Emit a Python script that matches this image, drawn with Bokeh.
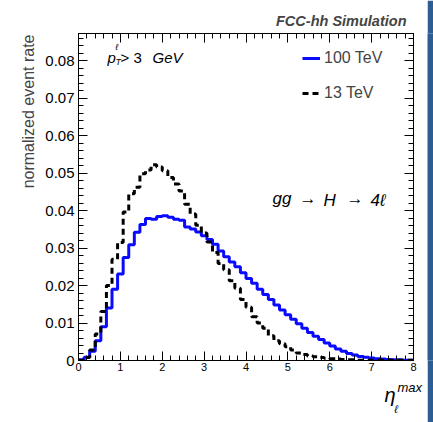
import numpy as np
from bokeh.plotting import figure
from bokeh.layouts import row
from bokeh.models import (LinearAxis, SingleIntervalTicker, Label, Legend, LegendItem, Title,
                          CustomJSTickFormatter, Range1d)
from bokeh.embed import file_html
from bokeh.resources import INLINE

# ---- data: 60 bins from 0 to 8 in eta_max ----
eta_lo, eta_hi, n_bins = 0.0, 8.0, 60
rate_100tev = [0.0002, 0.0009, 0.0025, 0.0053, 0.0090, 0.0140, 0.0190, 0.0231, 0.0275, 0.0309,
               0.0342, 0.0363, 0.0379, 0.0377, 0.0384, 0.0386, 0.0382, 0.0377, 0.0374, 0.0356,
               0.0351, 0.0343, 0.0333, 0.0323, 0.0310, 0.0292, 0.0277, 0.0263, 0.0250, 0.0234,
               0.0219, 0.0206, 0.0190, 0.0176, 0.0163, 0.0148, 0.0135, 0.0122, 0.0110, 0.0098,
               0.0086, 0.0075, 0.0065, 0.0056, 0.0047, 0.0039, 0.0031, 0.0025, 0.0019, 0.0015,
               0.0011, 0.0009, 0.0007, 0.0005, 0.0004, 0.0003, 0.0002, 0.0002, 0.0001, 0.0001]
rate_13tev = [0.0001, 0.0008, 0.0028, 0.0071, 0.0131, 0.0200, 0.0270, 0.0315, 0.0396, 0.0445,
              0.0462, 0.0498, 0.0508, 0.0522, 0.0516, 0.0506, 0.0488, 0.0471, 0.0452, 0.0417,
              0.0391, 0.0361, 0.0340, 0.0316, 0.0288, 0.0259, 0.0242, 0.0213, 0.0193, 0.0163,
              0.0142, 0.0117, 0.0100, 0.0086, 0.0066, 0.0053, 0.0045, 0.0037, 0.0028, 0.0020,
              0.0016, 0.0012, 0.0010, 0.0008, 0.0006, 0.0005, 0.0004, 0.0003, 0.0002, 0.0002,
              0.0001, 0.0001, 0.0001, 0.0001, 0.0001, 0.0001, 0.0001, 0.0001, 0.0001, 0.0001]
series_labels = ["100 TeV", "13 TeV"]
y_label = "normalized event rate"
title_text = "FCC-hh Simulation"

FONT = "Liberation Sans"
W = 427

edges = np.linspace(eta_lo, eta_hi, n_bins + 1)

p = figure(width=W, height=422, output_backend="svg", toolbar_location=None,
           x_range=Range1d(0, 8), y_range=Range1d(0, 0.0872),
           min_border_left=78, min_border_right=W - 413, min_border_top=33, min_border_bottom=61,
           background_fill_color="white", border_fill_color="white")
p.outline_line_color = "black"
p.xgrid.visible = False
p.ygrid.visible = False

def style_axis(ax, labels=True, size="15px"):
    ax.major_tick_in = 9
    ax.major_tick_out = 0
    ax.minor_tick_in = 5
    ax.minor_tick_out = 0
    ax.axis_line_color = "black"
    ax.major_tick_line_color = "black"
    ax.minor_tick_line_color = "black"
    ax.major_label_text_font = FONT
    ax.major_label_text_font_size = size
    ax.major_label_text_color = "black"
    if not labels:
        ax.formatter = CustomJSTickFormatter(code="return ''")
        ax.major_label_standoff = 0

p.xaxis.ticker = SingleIntervalTicker(interval=1, num_minor_ticks=5)
p.yaxis.ticker = SingleIntervalTicker(interval=0.01, num_minor_ticks=5)
style_axis(p.xaxis[0], size="11px")
style_axis(p.yaxis[0], size="15px")
p.xaxis[0].major_label_standoff = 2
p.yaxis[0].major_label_standoff = 4
p.yaxis[0].formatter = CustomJSTickFormatter(code="return tick == 0 ? '0' : tick.toFixed(2)")

ax_top = LinearAxis(ticker=SingleIntervalTicker(interval=1, num_minor_ticks=5))
ax_right = LinearAxis(ticker=SingleIntervalTicker(interval=0.01, num_minor_ticks=5))
style_axis(ax_top, labels=False)
style_axis(ax_right, labels=False)
p.add_layout(ax_top, "above")
p.add_layout(ax_right, "right")

# title (above) and y label (left) as Titles so they live outside the frame
p.title.text = title_text
p.title.align = "right"
p.title.offset = 7
p.title.standoff = 9
p.title.text_font = FONT
p.title.text_font_size = "14.5px"
p.title.text_font_style = "bold italic"

ytitle = Title(text=y_label, align="right", text_font=FONT, text_font_size="16px",
               text_font_style="normal", standoff=11, offset=1)
p.add_layout(ytitle, "left")

# histograms as steps
r100 = p.step(x=list(edges), y=rate_100tev + [rate_100tev[-1]], mode="after",
              line_color="#0a0aff", line_width=3)
r13 = p.step(x=list(edges), y=rate_13tev + [rate_13tev[-1]], mode="after",
             line_color="black", line_width=3, line_dash="6 4")

legend = Legend(items=[LegendItem(label=series_labels[0], renderers=[r100]),
                       LegendItem(label=series_labels[1], renderers=[r13])],
                location=(224, 257), orientation="vertical",
                glyph_width=18, glyph_height=20, label_height=20, label_standoff=4,
                spacing=15, padding=0, margin=0,
                border_line_color=None, background_fill_alpha=0,
                label_text_font=FONT, label_text_font_size="16px")
p.add_layout(legend, "center")

def lab(text, x, y, size, style="normal", align="left", baseline="alphabetic", place="center",
        color="black"):
    fx = x - 78
    fy = 361 - y
    p.add_layout(Label(x=fx, y=fy, x_units="screen", y_units="screen", text=text,
                       text_font=FONT, text_font_size=size, text_font_style=style,
                       text_align=align, text_baseline=baseline, text_color=color), place)

# p_T^l > 3 GeV
lab("p", 107, 58, "15px", style="italic")
lab("T", 115, 62, "9px", style="italic")
lab("\u2113", 115, 47, "9px", style="italic")
lab("> 3", 120, 58, "15px")
lab("GeV", 152, 58, "15px", style="italic")

# gg -> H -> 4l
lab("gg", 272, 199, "17px", style="italic")
lab("\u2192", 299, 199, "17px")
lab("H", 323, 201, "17px", style="italic")
lab("\u2192", 346, 199, "17px")
lab("4\u2113", 370, 201, "17px", style="italic")

# x label eta_l^max -- labels in the below panel (each stacks in its own panel)
def below(text, x, y, size):
    p.add_layout(Label(x=x - 78, y=y, x_units="screen", y_units="screen", text=text,
                       text_font=FONT, text_font_size=size, text_font_style="italic",
                       text_color="black"), "below")

below("\u03b7", 384, -10, "20px")
below("max", 397, 16, "13px")
below("\u2113", 394, 8, "11px")

# slide-edge band on the right
band = figure(width=433 - W, height=422, output_backend="svg", toolbar_location=None,
              min_border=0, outline_line_color=None,
              background_fill_color="#2c5e93", border_fill_color="#2c5e93")
band.title.visible = False
band.xaxis.visible = False
band.yaxis.visible = False
band.xgrid.visible = False
band.ygrid.visible = False

layout = row(p, band, spacing=0)
open("out.html", "w").write(file_html(layout, INLINE))
